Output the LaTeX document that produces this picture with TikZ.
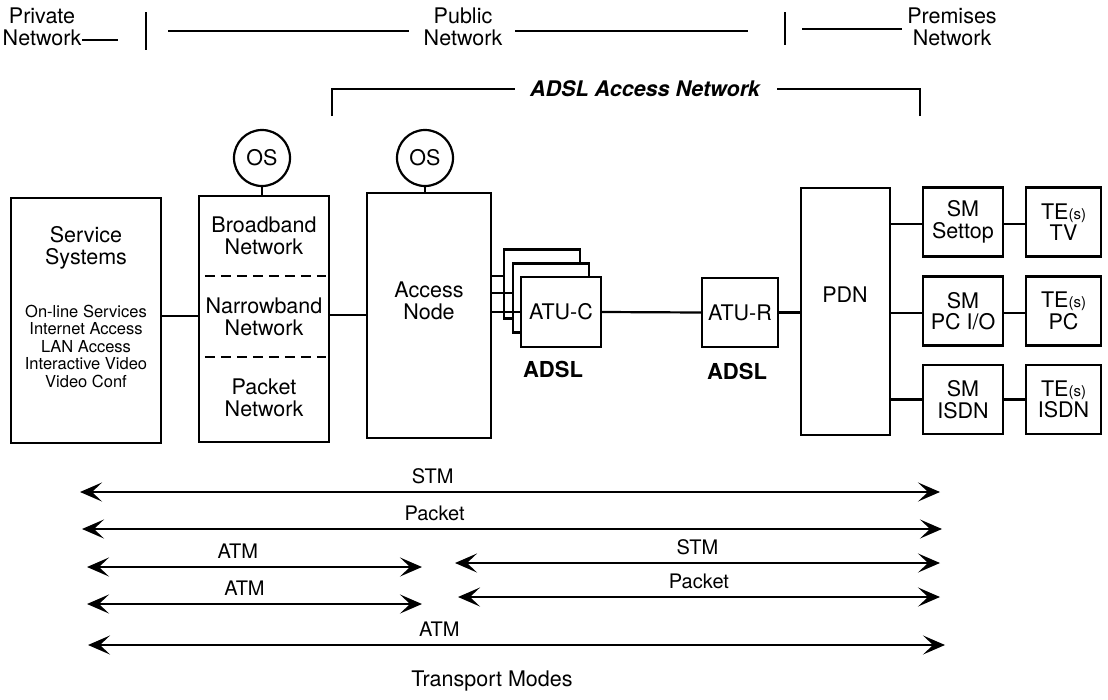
\documentclass[tikz,border=0pt]{standalone}
\usepackage{fontspec}
\setmainfont{TeX Gyre Heros}
\usetikzlibrary{arrows.meta}
\usetikzlibrary{positioning}

\newcommand{\bigtxt}{\fontsize{21.5}{21.5}\selectfont}
\newcommand{\smalltxt}{\fontsize{16.5}{17.5}\selectfont}
\newcommand{\lbltxt}{\fontsize{20}{20}\selectfont}
\newcommand{\tes}{TE{\fontsize{15}{15}\selectfont(s)}}

\tikzset{
  modearrow/.style={<->, >={Stealth[length=22pt,width=19pt,inset=10pt]}, line width=2.2pt},
  lbl/.style={anchor=base, yshift=9pt, inner sep=0pt, font=\lbltxt}
}

\begin{document}
\begin{tikzpicture}[x=1pt,y=-1pt,line width=2.2pt,font=\bigtxt]
    \useasboundingbox (0,0) rectangle (1108,699);

        % network domains on top
        \begin{scope}[every node/.style={align=center,inner sep=0pt}]
        \node (priv) at (42,27) {Private\\Network};
        \node (publ) at (463,27) {Public\\Network};
        \node (prem) at (952,27) {Premises\\Network};
        \node[font=\bigtxt\bfseries\itshape] (adsl) at (645,89) {ADSL Access Network};
        \end{scope}

        \coordinate (d1) at (118,40);
        \coordinate (bar1) at (146,12);
        \coordinate (l1) at (168,31);
        \coordinate (l2) at (748,31);
        \coordinate (bar2) at (785,12);
        \coordinate (l3) at (802,29);
        \coordinate (bl) at (332,116);
        \coordinate (br) at (920,116);

        \draw (d1 -| priv.east) -- (d1);
        \draw (bar1) -- ++(0,38);
        \draw (l1) -- ([xshift=-14pt]l1 -| publ.west);
        \draw ([xshift=12pt]l2 -| publ.east) -- (l2);
        \draw (bar2) -- ++(0,33);
        \draw (l3) -- ([xshift=-4pt]l3 -| prem.west);
        \draw (bl) |- ([xshift=-14pt]adsl.west);
        \draw (br) |- ([xshift=16pt]adsl.east);

        % boxes, use the tuple for location
        \begin{scope}[every node/.style={draw,fill=white,inner sep=0pt,align=center}]
        \node[minimum width=150pt,minimum height=245pt] (serv) at (86,320.5) {};
        \node[minimum width=130pt,minimum height=246pt] (bnet) at (264,319) {};
        \node[minimum width=124pt,minimum height=245pt] (an) at (429,315.5) {};
        \node[circle,minimum size=56pt] (os1) at (262,158) {OS};
        \node[circle,minimum size=56pt] (os2) at (425,158) {OS};

        \node[minimum width=76pt,minimum height=69pt] (atuca) at (542,284) {};
        \node[minimum width=76pt,minimum height=69pt] (atucb) at (551,298) {};
        \node[minimum width=80pt,minimum height=70pt] (atucc) at (561,312) {ATU-C};
        \node[minimum width=76pt,minimum height=69pt] (atur) at (740,312.5) {ATU-R};

        \node[minimum width=89pt,minimum height=247pt] (pdn) at (845.5,311.5) {};
        \node[minimum width=80pt,minimum height=69pt] (sm1) at (963,222) {SM\\Settop};
        \node[minimum width=80pt,minimum height=69pt] (sm2) at (963,311) {SM\\PC I/O};
        \node[minimum width=80pt,minimum height=69pt] (sm3) at (963,399.5) {SM\\ISDN};
        \node[minimum width=75pt,minimum height=69pt] (te1) at (1063.5,222) {\tes\\TV};
        \node[minimum width=75pt,minimum height=69pt] (te2) at (1063.5,311) {\tes\\PC};
        \node[minimum width=75pt,minimum height=69pt] (te3) at (1063.5,399.5) {\tes\\ISDN};
        \end{scope}

        % texts inside the big boxes
        \begin{scope}[every node/.style={align=center,inner sep=0pt}]
        \node (servt) at (86,248) {Service\\Systems};
        \node[font=\smalltxt] (servl) at (86,346) {On-line Services\\Internet Access\\LAN Access\\Interactive Video\\Video Conf};
        \node (bbt) at (264,236) {Broadband\\Network};
        \node (nbt) at (264,317) {Narrowband\\Network};
        \node (pkt) at (264,398) {Packet\\Network};
        \node (ant) at (429,301) {Access\\Node};
        \node (pdnt) at (845,295) {PDN};
        \node[font=\fontsize{22}{22}\selectfont\bfseries] (adslc) at (553,369) {ADSL};
        \node[font=\fontsize{22}{22}\selectfont\bfseries] (adslr) at (737,371) {ADSL};
        \node (tm) at (492,681) {Transport Modes};
        \end{scope}

        \draw[dash pattern=on 10pt off 6pt] ([xshift=7pt]bnet.west |- 0,276) -- ([xshift=-4pt]bnet.east |- 0,276);
        \draw[dash pattern=on 10pt off 6pt] ([xshift=7pt]bnet.west |- 0,357) -- ([xshift=-4pt]bnet.east |- 0,357);

        % Remove or add new edges here
        \path [-] (os1.south) edge (os1.south |- bnet.north);
        \path [-] (os2.south) edge (os2.south |- an.north);
        \path [-] (serv.east |- 0,316) edge (bnet.west |- 0,316);
        \path [-] (bnet.east |- 0,315) edge (an.west |- 0,315);
        \path [-] ([yshift=8pt]atuca.west -| an.east) edge ([yshift=8pt]atuca.west);
        \path [-] ([yshift=5pt]atucb.west -| an.east) edge ([yshift=5pt]atucb.west);
        \path [-] (atucc.west -| an.east) edge (atucc.west);
        \path [-] (atucc.east) edge (atur.west);
        \path [-] (atur.east) edge (atur.east -| pdn.west);
        \path [-] ([yshift=-2pt]sm1.west -| pdn.east) edge ([yshift=-2pt]sm1.west);
        \path [-] ([yshift=-2pt]sm2.west -| pdn.east) edge ([yshift=-2pt]sm2.west);
        \path [-] (sm3.west -| pdn.east) edge (sm3.west);
        \path [-] ([yshift=-2pt]sm1.east) edge ([yshift=-2pt]te1.west);
        \path [-] ([yshift=-2pt]sm2.east) edge ([yshift=-2pt]te2.west);
        \path [-] (sm3.east) edge (te3.west);

        % transport modes
        \coordinate (m1a) at (80,492);   \coordinate (m1b) at (940,492);
        \coordinate (m2a) at (82,529);   \coordinate (m2b) at (942,529);
        \coordinate (m3a) at (87,567);   \coordinate (m3b) at (422,567);
        \coordinate (m3c) at (455,563);  \coordinate (m3d) at (940,563);
        \coordinate (m4a) at (87,604);   \coordinate (m4b) at (422,604);
        \coordinate (m4c) at (458,597);  \coordinate (m4d) at (940,597);
        \coordinate (m5a) at (88,645);   \coordinate (m5b) at (945,645);

        \draw[modearrow] (m1a) -- node[lbl,pos=.41] {STM} (m1b);
        \draw[modearrow] (m2a) -- node[lbl,pos=.41] {Packet} (m2b);
        \draw[modearrow] (m3a) -- node[lbl,pos=.45] {ATM} (m3b);
        \draw[modearrow] (m3c) -- node[lbl,pos=.5] {STM} (m3d);
        \draw[modearrow] (m4a) -- node[lbl,pos=.47] {ATM} (m4b);
        \draw[modearrow] (m4c) -- node[lbl,pos=.5] {Packet} (m4d);
        \draw[modearrow] (m5a) -- node[lbl,pos=.41] {ATM} (m5b);

\end{tikzpicture}
\end{document}
